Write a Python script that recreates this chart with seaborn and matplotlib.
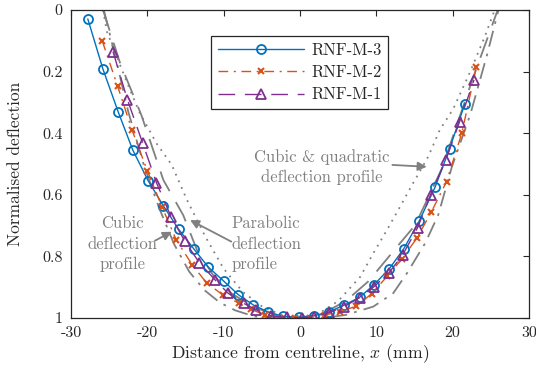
import numpy as np
import pandas as pd
import matplotlib
matplotlib.use("Agg")
import matplotlib.pyplot as plt
import seaborn as sns

# ---------------- data ----------------
m3_x = [-27.8, -25.8, -23.8, -21.9, -19.9, -17.9, -15.9, -13.9, -12.0, -10.0, -8.1, -6.1, -4.2,
        -2.2, -0.1, 1.8, 3.8, 5.8, 7.8, 9.7, 11.7, 13.6, 15.6, 17.7, 19.6, 21.6]
m3_y = [0.029, 0.193, 0.332, 0.455, 0.554, 0.636, 0.712, 0.776, 0.835, 0.880, 0.924, 0.958, 0.980,
        0.995, 0.997, 0.993, 0.980, 0.958, 0.933, 0.892, 0.840, 0.775, 0.686, 0.575, 0.450, 0.304]

m2_x = [-25.9, -23.9, -22.0, -20.0, -18.1, -16.2, -14.1, -12.2, -10.1, -8.0, -6.4, -4.6, -2.6,
        -0.6, 1.3, 3.3, 5.2, 7.4, 9.4, 11.4, 13.3, 15.3, 17.2, 19.2, 21.2, 23.1]
m2_y = [0.101, 0.247, 0.390, 0.522, 0.638, 0.747, 0.828, 0.887, 0.925, 0.952, 0.972, 0.990, 1.000,
        1.000, 1.000, 0.990, 0.980, 0.961, 0.921, 0.865, 0.810, 0.741, 0.656, 0.557, 0.400, 0.184]

m1_x = [-24.5, -22.6, -20.6, -18.8, -16.9, -15.1, -13.2, -11.1, -9.4, -7.4, -5.7, -3.8, -1.7,
        0.2, 1.8, 3.8, 5.8, 7.8, 9.7, 11.6, 13.45, 15.4, 17.1, 19.1, 20.9, 22.8]
m1_y = [0.135, 0.292, 0.433, 0.561, 0.671, 0.750, 0.820, 0.877, 0.920, 0.952, 0.974, 0.993, 0.998,
        0.999, 0.996, 0.983, 0.963, 0.934, 0.898, 0.855, 0.795, 0.707, 0.600, 0.487, 0.363, 0.227]

# reference profiles (grey)
para_x = [-25.8, -25.3, -22.7, -21.0, -18.8, -16.8, -14.8, -12.4, -10.0, -7.5, -5.0, -2.5, 0.0,
          2.5, 5.0, 7.9, 9.6, 11.4, 13.1, 14.8, 16.8, 18.3, 20.1, 22.3, 24.2, 25.5]
para_y = [0.0, 0.07, 0.233, 0.334, 0.433, 0.503, 0.617, 0.736, 0.840, 0.915, 0.962, 0.99, 1.0,
          0.985, 0.945, 0.866, 0.790, 0.714, 0.639, 0.563, 0.476, 0.390, 0.320, 0.200, 0.087, 0.0]

cubic_x = [-25.8, -23.6, -20.8, -17.9, -15.3, -13.5, -11.4, -9.0, -6.0, -3.0, 0.0, 3.0, 6.0,
           9.0, 12.0, 15.1, 18.6, 22.6, 25.9]
cubic_y = [0.0, 0.17, 0.34, 0.552, 0.666, 0.779, 0.860, 0.920, 0.965, 0.992, 1.0, 0.985, 0.945,
           0.880, 0.790, 0.698, 0.514, 0.225, 0.0]

cq_x = [-25.7, -24.2, -22.5, -20.5, -18.5, -16.5, -14.5, -12.5, -10.5, -8.5, -6.0, -3.5, 0.0,
        3.0, 6.0, 9.6, 12.2, 14.0, 16.4, 18.1, 19.9, 22.3, 24.5, 26.0]
cq_y = [0.0, 0.15, 0.33, 0.50, 0.64, 0.76, 0.85, 0.91, 0.95, 0.975, 0.995, 1.0, 1.0,
        1.0, 0.99, 0.963, 0.920, 0.855, 0.757, 0.666, 0.509, 0.340, 0.146, 0.0]

x_ticks = [-30, -20, -10, 0, 10, 20, 30]
x_tick_labels = ["-30", "-20", "-10", "0", "10", "20", "30"]
y_ticks = [0, 0.2, 0.4, 0.6, 0.8, 1]
y_tick_labels = ["0", "0.2", "0.4", "0.6", "0.8", "1"]

# ---------------- style ----------------
sns.set_theme(style="white")
plt.rcParams["font.family"] = ["cmr10", "DejaVu Serif"]
plt.rcParams["mathtext.fontset"] = "cm"
plt.rcParams["axes.formatter.use_mathtext"] = True
plt.rcParams["axes.unicode_minus"] = False

BLUE = "#0072BD"
ORANGE = "#D95319"
PURPLE = "#7E2F8E"
GREY = "#808080"
INK = "#262626"

fig = plt.figure(figsize=(5.36, 3.80), dpi=100)
ax = fig.add_axes([71 / 536, 1 - 318 / 380, (529 - 71) / 536, (318 - 10) / 380])

lw = 1.0
# grey reference profiles
sns.lineplot(x=para_x, y=para_y, ax=ax, sort=False, estimator=None, color=GREY,
             linewidth=1.3, linestyle=(0, (1, 3)))
sns.lineplot(x=cubic_x, y=cubic_y, ax=ax, sort=False, estimator=None, color=GREY,
             linewidth=1.3, linestyle=(0, (12, 7)))
sns.lineplot(x=cq_x, y=cq_y, ax=ax, sort=False, estimator=None, color=GREY,
             linewidth=1.3, linestyle=(0, (9, 4, 1.5, 4)))

# test data
sns.lineplot(x=m3_x, y=m3_y, ax=ax, sort=False, estimator=None, color=BLUE, linewidth=lw,
             linestyle="-", marker="o", markersize=6.5, markerfacecolor="none",
             markeredgecolor=BLUE, markeredgewidth=1.3, label="RNF-M-3")
sns.lineplot(x=m2_x, y=m2_y, ax=ax, sort=False, estimator=None, color=ORANGE, linewidth=lw,
             linestyle=(0, (7, 4, 1.5, 4)), marker="x", markersize=5, markeredgecolor=ORANGE,
             markeredgewidth=1.5, label="RNF-M-2")
sns.lineplot(x=m1_x, y=m1_y, ax=ax, sort=False, estimator=None, color=PURPLE, linewidth=lw,
             linestyle=(0, (12, 7)), marker="^", markersize=7.5, markerfacecolor="none",
             markeredgecolor=PURPLE, markeredgewidth=1.3, label="RNF-M-1")

ax.set_xlim(-30, 30)
ax.set_ylim(1, 0)
ax.set_xticks(x_ticks)
ax.set_xticklabels(x_tick_labels)
ax.set_yticks(y_ticks)
ax.set_yticklabels(y_tick_labels)
ax.tick_params(axis="both", which="both", direction="in", length=4, width=0.8,
               top=True, right=True, labelsize=11.5, colors=INK, pad=6)
for s in ax.spines.values():
    s.set_visible(True)
    s.set_color(INK)
    s.set_linewidth(0.9)

ax.set_xlabel("Distance from centreline, $x$ (mm)", fontsize=12.7, color=INK, labelpad=2)
ax.set_ylabel("Normalised deflection", fontsize=12.5, color=INK, labelpad=14)

leg = ax.legend(loc="upper left", bbox_to_anchor=(0.306, 0.916), fontsize=12, frameon=True,
                fancybox=False, edgecolor=INK, framealpha=1, handlelength=5.2,
                borderpad=0.4, labelspacing=0.42, handletextpad=0.4, borderaxespad=0)
leg.get_frame().set_linewidth(0.9)

arrow = dict(arrowstyle="-|>", color=GREY, lw=1.3, mutation_scale=13, shrinkA=0, shrinkB=0)
ax.text(2.8, 0.51, "Cubic & quadratic\ndeflection profile", ha="center", va="center",
        fontsize=12, color=GREY, linespacing=1.35)
ax.annotate("", xy=(16.6, 0.509), xytext=(12.1, 0.503), arrowprops=arrow)

ax.text(-23.3, 0.76, "Cubic\ndeflection\nprofile", ha="center", va="center", fontsize=12,
        color=GREY, linespacing=1.4)
ax.annotate("", xy=(-16.8, 0.72), xytext=(-19.0, 0.749), arrowprops=arrow)

ax.text(-8.95, 0.76, "Parabolic\ndeflection\nprofile", ha="left", va="center", fontsize=12,
        color=GREY, linespacing=1.4)
ax.annotate("", xy=(-14.4, 0.682), xytext=(-9.0, 0.752), arrowprops=arrow)

fig.savefig("out.png", dpi=100)
